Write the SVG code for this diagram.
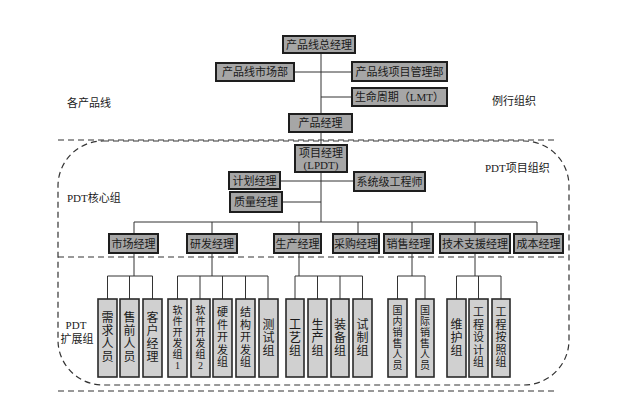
<svg xmlns="http://www.w3.org/2000/svg" width="622" height="411" viewBox="0 0 622 411">
<style>
text{font-family:"Liberation Serif","Noto Sans CJK SC",serif;fill:#1a1a1a;}
.t{font-size:11px;text-anchor:middle;}
.v{font-size:12px;text-anchor:middle;}
.v5{font-size:11px;text-anchor:middle;}
.v6{font-size:10px;text-anchor:middle;}
.lbl{font-size:11px;}
.box rect{fill:#a6a6a6;stroke:#1e1e1e;stroke-width:2;}
.sub rect{fill:#d0d0d0;stroke:#2a2a2a;stroke-width:1.6;}
.conn line,.conn path{stroke:#333;stroke-width:1;fill:none;}
.dash{stroke:#333;stroke-width:1.2;fill:none;stroke-dasharray:6 4;}
</style>
<rect width="622" height="411" fill="#fff"/>

<g id="regions">
<line class="dash" x1="58" y1="140" x2="555" y2="140"/>
<rect class="dash" x="58" y="141" width="511" height="244" rx="45" ry="45"/>
<line class="dash" x1="58" y1="257" x2="566" y2="257"/>
<line class="dash" x1="58" y1="391" x2="555" y2="391"/>
</g>

<g id="labels">
<text class="lbl" x="67" y="107">各产品线</text>
<text class="lbl" x="492" y="105">例行组织</text>
<text class="lbl" x="485" y="172">PDT项目组织</text>
<text class="lbl" x="67" y="202">PDT核心组</text>
<text class="lbl" x="76" y="329" text-anchor="middle">PDT</text>
<text class="lbl" x="77" y="343" text-anchor="middle">扩展组</text>
</g>

<g class="conn" id="connectors">
<line x1="321" y1="53" x2="321" y2="114"/>
<line x1="294" y1="72" x2="352" y2="72"/>
<line x1="321" y1="97" x2="352" y2="97"/>
<line x1="321" y1="132" x2="321" y2="145"/>
<line x1="321" y1="172" x2="321" y2="222"/>
<line x1="280" y1="181" x2="354" y2="181"/>
<line x1="282" y1="202" x2="321" y2="202"/>
<line x1="134" y1="222" x2="537" y2="222"/>
<line x1="134" y1="222" x2="134" y2="234"/>
<line x1="212" y1="222" x2="212" y2="234"/>
<line x1="299" y1="222" x2="299" y2="234"/>
<line x1="358" y1="222" x2="358" y2="234"/>
<line x1="412" y1="222" x2="412" y2="234"/>
<line x1="475" y1="222" x2="475" y2="234"/>
<line x1="537" y1="222" x2="537" y2="234"/>
<path d="M134 253V276M107.5 299V276H152.5V299M129.5 276V299"/>
<path d="M212 253V276M177.5 299V276H268V299M200 276V299M222.5 276V299M245.5 276V299"/>
<path d="M299 253V276M295 299V276H362.5V299M317.5 276V299M340 276V299"/>
<path d="M412 253V276M397.5 299V276H425V299"/>
<path d="M475 253V276M456.5 299V276H501V299M478.5 276V299"/>
</g>

<g id="n-zongjingli" class="box"><rect x="283" y="36" width="72" height="17"/><text class="t" x="319" y="48.5">产品线总经理</text></g>
<g id="n-shichangbu" class="box"><rect x="216" y="63" width="78" height="18"/><text class="t" x="255" y="76">产品线市场部</text></g>
<g id="n-xiangmuguanli" class="box"><rect x="352" y="62" width="95" height="19"/><text class="t" x="399.5" y="75.5">产品线项目管理部</text></g>
<g id="n-lmt" class="box"><rect x="352" y="88" width="95" height="18"/><text class="t" x="399.5" y="101">生命周期（LMT）</text></g>
<g id="n-chanpinjingli" class="box"><rect x="289" y="114" width="63" height="18"/><text class="t" x="320.5" y="127">产品经理</text></g>
<g id="n-lpdt" class="box"><rect x="295" y="145" width="52" height="27"/><text class="t" x="321" y="157">项目经理</text><text class="t" x="321" y="169">(LPDT)</text></g>
<g id="n-jihua" class="box"><rect x="229" y="172" width="51" height="17"/><text class="t" x="254.5" y="184.5">计划经理</text></g>
<g id="n-xitong" class="box"><rect x="354" y="172" width="71" height="19"/><text class="t" x="389.5" y="185.5">系统级工程师</text></g>
<g id="n-zhiliang" class="box"><rect x="230" y="192" width="52" height="20"/><text class="t" x="256" y="206">质量经理</text></g>

<g id="n-shichangjingli" class="box"><rect x="109" y="234" width="49" height="19"/><text class="t" x="133.5" y="247.5">市场经理</text></g>
<g id="n-yanfa" class="box"><rect x="187" y="234" width="50" height="19"/><text class="t" x="212" y="247.5">研发经理</text></g>
<g id="n-shengchan" class="box"><rect x="274" y="234" width="47" height="19"/><text class="t" x="297.5" y="247.5">生产经理</text></g>
<g id="n-caigou" class="box"><rect x="333" y="234" width="46" height="19"/><text class="t" x="356" y="247.5">采购经理</text></g>
<g id="n-xiaoshou" class="box"><rect x="384" y="234" width="49" height="19"/><text class="t" x="408.5" y="247.5">销售经理</text></g>
<g id="n-jishu" class="box"><rect x="440" y="234" width="70" height="19"/><text class="t" x="475" y="247.5">技术支援经理</text></g>
<g id="n-chengben" class="box"><rect x="514" y="234" width="49" height="19"/><text class="t" x="538.5" y="247.5">成本经理</text></g>

<g id="s-xuqiu" class="sub"><rect x="98" y="299" width="19" height="78"/><text class="v" x="107.5" y="322"><tspan x="107.5">需</tspan><tspan x="107.5" dy="13">求</tspan><tspan x="107.5" dy="13">人</tspan><tspan x="107.5" dy="13">员</tspan></text></g>
<g id="s-shouqian" class="sub"><rect x="120" y="299" width="19" height="78"/><text class="v" x="129.5" y="322"><tspan x="129.5">售</tspan><tspan x="129.5" dy="13">前</tspan><tspan x="129.5" dy="13">人</tspan><tspan x="129.5" dy="13">员</tspan></text></g>
<g id="s-kehu" class="sub"><rect x="143" y="299" width="19" height="78"/><text class="v" x="152.5" y="322"><tspan x="152.5">客</tspan><tspan x="152.5" dy="13">户</tspan><tspan x="152.5" dy="13">经</tspan><tspan x="152.5" dy="13">理</tspan></text></g>

<g id="s-ruanjian1" class="sub"><rect x="168" y="299" width="19" height="78"/><text class="v6" x="177.5" y="314"><tspan x="177.5">软</tspan><tspan x="177.5" dy="11">件</tspan><tspan x="177.5" dy="11">开</tspan><tspan x="177.5" dy="11">发</tspan><tspan x="177.5" dy="11">组</tspan><tspan x="177.5" dy="11">1</tspan></text></g>
<g id="s-ruanjian2" class="sub"><rect x="191" y="299" width="19" height="78"/><text class="v6" x="200.5" y="314"><tspan x="200.5">软</tspan><tspan x="200.5" dy="11">件</tspan><tspan x="200.5" dy="11">开</tspan><tspan x="200.5" dy="11">发</tspan><tspan x="200.5" dy="11">组</tspan><tspan x="200.5" dy="11">2</tspan></text></g>
<g id="s-yingjian" class="sub"><rect x="213" y="299" width="19" height="78"/><text class="v5" x="222.5" y="316"><tspan x="222.5">硬</tspan><tspan x="222.5" dy="12.5">件</tspan><tspan x="222.5" dy="12.5">开</tspan><tspan x="222.5" dy="12.5">发</tspan><tspan x="222.5" dy="12.5">组</tspan></text></g>
<g id="s-jiegou" class="sub"><rect x="236" y="299" width="19" height="78"/><text class="v5" x="245.5" y="316"><tspan x="245.5">结</tspan><tspan x="245.5" dy="12.5">构</tspan><tspan x="245.5" dy="12.5">开</tspan><tspan x="245.5" dy="12.5">发</tspan><tspan x="245.5" dy="12.5">组</tspan></text></g>
<g id="s-ceshi" class="sub"><rect x="259" y="299" width="19" height="78"/><text class="v" x="268.5" y="329"><tspan x="268.5">测</tspan><tspan x="268.5" dy="13">试</tspan><tspan x="268.5" dy="13">组</tspan></text></g>

<g id="s-gongyi" class="sub"><rect x="286" y="299" width="18" height="78"/><text class="v" x="295" y="329"><tspan x="295">工</tspan><tspan x="295" dy="13">艺</tspan><tspan x="295" dy="13">组</tspan></text></g>
<g id="s-shengchanzu" class="sub"><rect x="308" y="299" width="19" height="78"/><text class="v" x="317.5" y="329"><tspan x="317.5">生</tspan><tspan x="317.5" dy="13">产</tspan><tspan x="317.5" dy="13">组</tspan></text></g>
<g id="s-zhuangbei" class="sub"><rect x="331" y="299" width="18" height="78"/><text class="v" x="340" y="329"><tspan x="340">装</tspan><tspan x="340" dy="13">备</tspan><tspan x="340" dy="13">组</tspan></text></g>
<g id="s-shizhi" class="sub"><rect x="353" y="299" width="19" height="78"/><text class="v" x="362.5" y="329"><tspan x="362.5">试</tspan><tspan x="362.5" dy="13">制</tspan><tspan x="362.5" dy="13">组</tspan></text></g>

<g id="s-guonei" class="sub"><rect x="388" y="299" width="19" height="78"/><text class="v6" x="397.5" y="314"><tspan x="397.5">国</tspan><tspan x="397.5" dy="11">内</tspan><tspan x="397.5" dy="11">销</tspan><tspan x="397.5" dy="11">售</tspan><tspan x="397.5" dy="11">人</tspan><tspan x="397.5" dy="11">员</tspan></text></g>
<g id="s-guoji" class="sub"><rect x="416" y="299" width="18" height="78"/><text class="v6" x="425" y="314"><tspan x="425">国</tspan><tspan x="425" dy="11">际</tspan><tspan x="425" dy="11">销</tspan><tspan x="425" dy="11">售</tspan><tspan x="425" dy="11">人</tspan><tspan x="425" dy="11">员</tspan></text></g>

<g id="s-weihu" class="sub"><rect x="447" y="299" width="19" height="78"/><text class="v" x="456.5" y="329"><tspan x="456.5">维</tspan><tspan x="456.5" dy="13">护</tspan><tspan x="456.5" dy="13">组</tspan></text></g>
<g id="s-gongchengsheji" class="sub"><rect x="469" y="299" width="19" height="78"/><text class="v5" x="478.5" y="316"><tspan x="478.5">工</tspan><tspan x="478.5" dy="12.5">程</tspan><tspan x="478.5" dy="12.5">设</tspan><tspan x="478.5" dy="12.5">计</tspan><tspan x="478.5" dy="12.5">组</tspan></text></g>
<g id="s-gongchenganzhao" class="sub"><rect x="492" y="299" width="18" height="78"/><text class="v5" x="501" y="316"><tspan x="501">工</tspan><tspan x="501" dy="12.5">程</tspan><tspan x="501" dy="12.5">按</tspan><tspan x="501" dy="12.5">照</tspan><tspan x="501" dy="12.5">组</tspan></text></g>
</svg>
